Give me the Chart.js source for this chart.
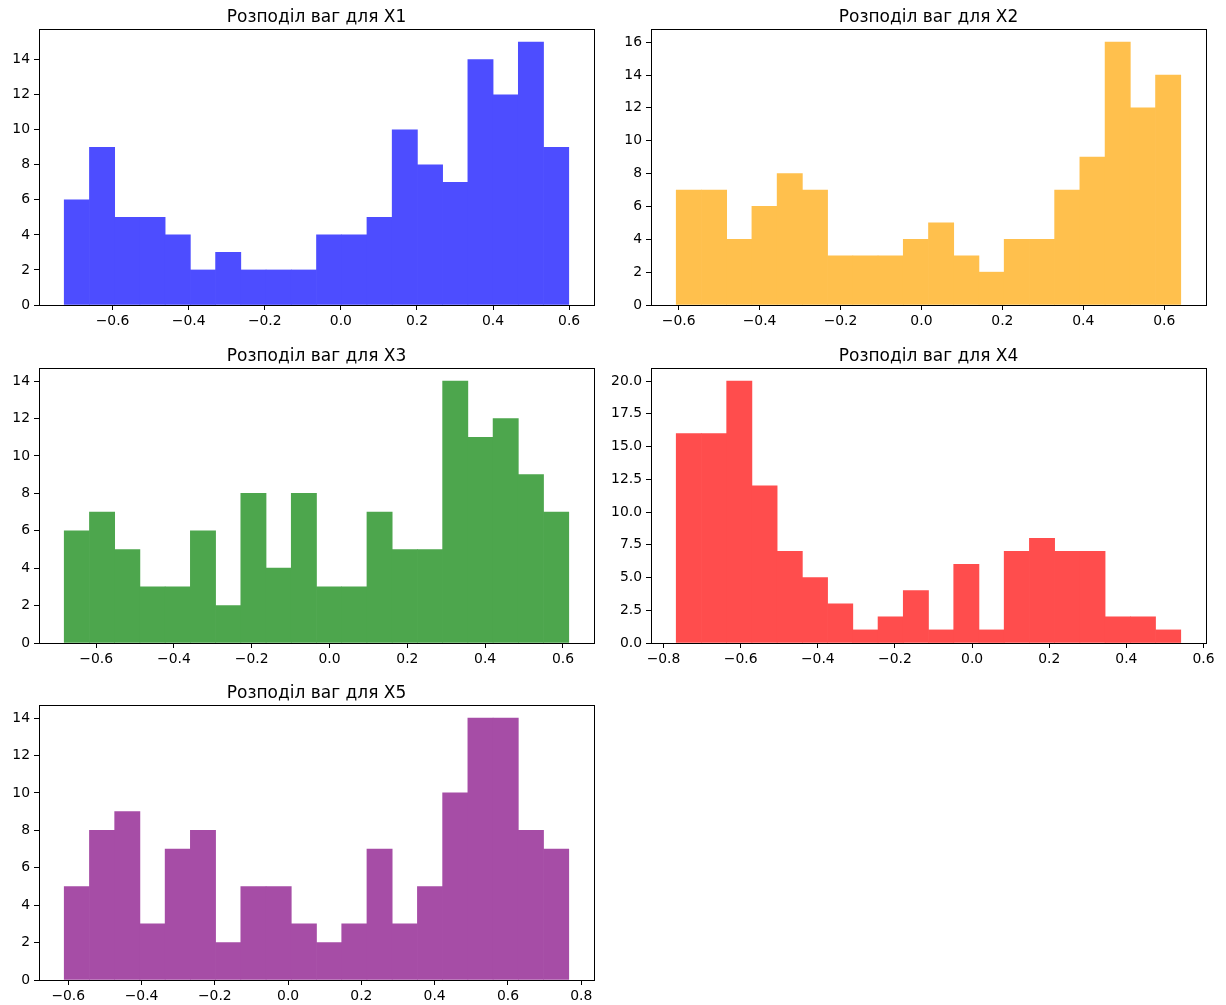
<!DOCTYPE html>
<html>
<head>
<meta charset="utf-8">
<script src="https://cdn.jsdelivr.net/npm/chart.js@4.4.1/dist/chart.umd.min.js"></script>
<style>
  html, body { margin: 0; padding: 0; background: #fff; overflow: hidden; width: 1226px; height: 1005px; }
  canvas { position: absolute; }
</style>
</head>
<body>
<canvas id="h1"></canvas>
<canvas id="h2"></canvas>
<canvas id="h3"></canvas>
<canvas id="h4"></canvas>
<canvas id="h5"></canvas>
<script>
// Histogram counts (20 bins each) and the [min, max] span of the weights
const x1Counts = [6, 9, 5, 5, 4, 2, 3, 2, 2, 2, 4, 4, 5, 10, 8, 7, 14, 12, 15, 9];
const x1Range = [-0.727, 0.599];

const x2Counts = [7, 7, 4, 6, 8, 7, 3, 3, 3, 4, 5, 3, 2, 4, 4, 7, 9, 16, 12, 14];
const x2Range = [-0.606, 0.641];

const x3Counts = [6, 7, 5, 3, 3, 6, 2, 8, 4, 8, 3, 3, 7, 5, 5, 14, 11, 12, 9, 7];
const x3Range = [-0.682, 0.615];

const x4Counts = [16, 16, 20, 12, 7, 5, 3, 1, 2, 4, 1, 6, 1, 7, 8, 7, 7, 2, 2, 1];
const x4Range = [-0.767, 0.541];

const x5Counts = [5, 8, 9, 3, 7, 8, 2, 5, 5, 3, 2, 3, 7, 3, 5, 10, 14, 14, 8, 7];
const x5Range = [-0.611, 0.766];

const titles = ['Розподіл ваг для X1', 'Розподіл ваг для X2', 'Розподіл ваг для X3',
                'Розподіл ваг для X4', 'Розподіл ваг для X5'];
// Base colours drawn at 70% opacity over white (blue, orange, green, red, purple)
const barColors = ['#4d4dff', '#ffc04d', '#4da64d', '#ff4d4d', '#a64da6'];
const yTickSteps = [2, 2, 2, 2.5, 2];
const yTickDigits = [0, 0, 0, 1, 0];

// Grid of panels: canvas placement in the page
const FONT = "'DejaVu Sans', 'Liberation Sans', sans-serif";
const panels = [
  { id: 'h1', left: 0,   top: 0,   width: 608, height: 330, padRight: 14 },
  { id: 'h2', left: 612, top: 0,   width: 610, height: 330, padRight: 16 },
  { id: 'h3', left: 0,   top: 339, width: 608, height: 329, padRight: 14 },
  { id: 'h4', left: 612, top: 339, width: 610, height: 329, padRight: 16 },
  { id: 'h5', left: 0,   top: 676, width: 608, height: 329, padRight: 14 }
];
const Y_AXIS_WIDTH = 39;
const X_AXIS_HEIGHT = 25;

function alignPx(v) { return Math.round(v - 0.5) + 0.5; }

// Full box around the plotting area (top and right spines included)
const frame = {
  id: 'frame',
  afterDatasetsDraw(chart) {
    const a = chart.chartArea, ctx = chart.ctx;
    const x0 = alignPx(a.left), x1 = alignPx(a.right);
    const y0 = alignPx(a.top), y1 = alignPx(a.bottom);
    ctx.save();
    ctx.strokeStyle = '#000';
    ctx.lineWidth = 1;
    ctx.strokeRect(x0, y0, x1 - x0, y1 - y0);
    ctx.restore();
  }
};

function fmt(v, digits) {
  if (Math.abs(v) < 1e-9) v = 0;
  const s = v.toFixed(digits);
  return s.replace('-', '\u2212');
}

function histogram(panel, title, counts, range, color, yStep, yDigits) {
  const canvas = document.getElementById(panel.id);
  canvas.width = panel.width;
  canvas.height = panel.height;
  canvas.style.left = panel.left + 'px';
  canvas.style.top = panel.top + 'px';

  const n = counts.length;
  const span = range[1] - range[0];
  const binWidth = span / n;
  const points = counts.map((c, i) => ({ x: range[0] + (i + 0.5) * binWidth, y: c }));

  const axisCommon = {
    grid: { display: true, drawOnChartArea: false, drawTicks: true, tickLength: 5,
            tickWidth: 1, tickColor: '#000' },
    border: { display: true, color: '#000', width: 1 }
  };

  new Chart(canvas, {
    type: 'bar',
    data: {
      datasets: [{
        data: points,
        backgroundColor: color,
        borderWidth: 0,
        barPercentage: 1,
        categoryPercentage: 1
      }]
    },
    options: {
      responsive: false,
      animation: false,
      devicePixelRatio: 1,
      layout: { padding: { left: 0, right: panel.padRight, top: 0, bottom: 0 } },
      plugins: {
        legend: { display: false },
        tooltip: { enabled: false },
        title: {
          display: true,
          fullSize: false,
          text: title,
          color: '#000',
          font: { family: FONT, size: 17, weight: 'normal', lineHeight: 1.2 },
          padding: { top: 7.3, bottom: 1.3 }
        }
      },
      scales: {
        x: Object.assign({}, axisCommon, {
          type: 'linear',
          offset: false,
          min: range[0] - 0.05 * span,
          max: range[1] + 0.05 * span,
          grid: Object.assign({}, axisCommon.grid, { offset: false }),
          ticks: {
            stepSize: 0.2, includeBounds: false, autoSkip: false, maxRotation: 0,
            padding: 3, color: '#000', font: { family: FONT, size: 13.9 },
            callback: v => fmt(v, 1)
          },
          afterFit: s => { s.height = X_AXIS_HEIGHT; }
        }),
        y: Object.assign({}, axisCommon, {
          type: 'linear',
          min: 0,
          max: Math.max(...counts) * 1.05,
          ticks: {
            stepSize: yStep, includeBounds: false, autoSkip: false,
            padding: 4, color: '#000', font: { family: FONT, size: 13.9 },
            callback: v => fmt(v, yDigits)
          },
          afterFit: s => { s.width = Y_AXIS_WIDTH; }
        })
      }
    },
    plugins: [frame]
  });
}

const allCounts = [x1Counts, x2Counts, x3Counts, x4Counts, x5Counts];
const allRanges = [x1Range, x2Range, x3Range, x4Range, x5Range];
panels.forEach((p, i) => histogram(p, titles[i], allCounts[i], allRanges[i],
                                    barColors[i], yTickSteps[i], yTickDigits[i]));
</script>
</body>
</html>
